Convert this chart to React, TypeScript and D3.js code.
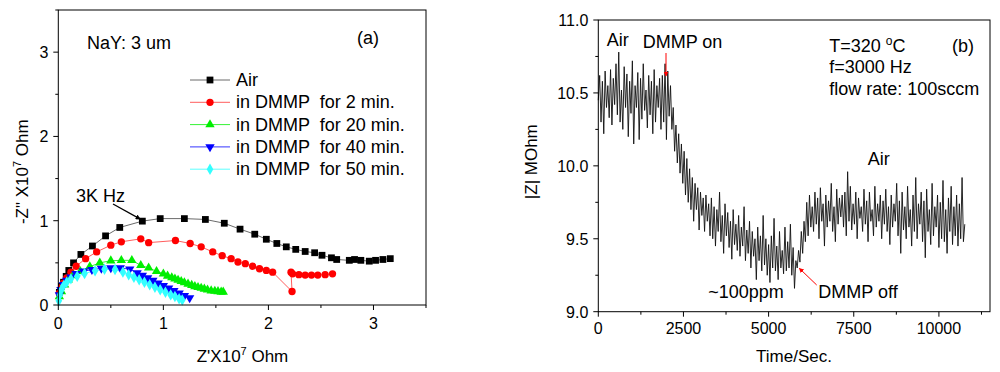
import React from "react";
import * as d3 from "d3";

// ---------- Panel (a): Nyquist plots ----------
const airX = [0.01, 0.03, 0.05, 0.075, 0.10, 0.145, 0.215, 0.325, 0.45, 0.585, 0.80, 0.97, 1.20, 1.40, 1.58, 1.73, 1.87, 1.98, 2.08, 2.17, 2.26, 2.35, 2.44, 2.51, 2.60, 2.65, 2.77, 2.82, 2.88, 2.96, 3.02, 3.09, 3.16];
const airY = [0.15, 0.22, 0.27, 0.34, 0.41, 0.50, 0.60, 0.70, 0.82, 0.92, 0.995, 1.025, 1.025, 1.015, 0.97, 0.90, 0.84, 0.78, 0.73, 0.69, 0.66, 0.635, 0.62, 0.59, 0.56, 0.54, 0.53, 0.54, 0.53, 0.52, 0.53, 0.54, 0.55];

const min2X = [0.01, 0.03, 0.05, 0.08, 0.12, 0.17, 0.26, 0.365, 0.50, 0.60, 0.785, 0.86, 1.115, 1.255, 1.36, 1.47, 1.56, 1.645, 1.71, 1.78, 1.85, 1.915, 1.98, 2.04, 2.225, 2.215, 2.23, 2.29, 2.35, 2.41, 2.47, 2.54, 2.61];
const min2Y = [0.14, 0.21, 0.26, 0.32, 0.39, 0.46, 0.55, 0.63, 0.71, 0.75, 0.785, 0.74, 0.765, 0.73, 0.69, 0.63, 0.585, 0.55, 0.51, 0.49, 0.46, 0.43, 0.41, 0.39, 0.16, 0.39, 0.37, 0.36, 0.355, 0.355, 0.355, 0.36, 0.37];

const min20X = [0.01, 0.03, 0.06, 0.095, 0.14, 0.21, 0.30, 0.395, 0.50, 0.60, 0.70, 0.785, 0.86, 0.935, 1.0, 1.04, 1.08, 1.11, 1.14, 1.17, 1.20, 1.235, 1.27, 1.30, 1.33, 1.36, 1.39, 1.42, 1.455, 1.49, 1.52, 1.55, 1.57];
const min20Y = [0.10, 0.16, 0.24, 0.30, 0.35, 0.40, 0.455, 0.50, 0.525, 0.53, 0.53, 0.47, 0.44, 0.40, 0.37, 0.345, 0.325, 0.31, 0.295, 0.28, 0.265, 0.25, 0.235, 0.22, 0.21, 0.20, 0.19, 0.18, 0.17, 0.165, 0.16, 0.155, 0.155];

const min40X = [0.01, 0.025, 0.05, 0.08, 0.12, 0.17, 0.24, 0.32, 0.41, 0.50, 0.59, 0.68, 0.75, 0.80, 0.85, 0.90, 0.95, 1.0, 1.05, 1.10, 1.15, 1.20, 1.25];
const min40Y = [0.12, 0.18, 0.24, 0.29, 0.33, 0.37, 0.40, 0.42, 0.435, 0.44, 0.44, 0.425, 0.38, 0.35, 0.32, 0.29, 0.26, 0.23, 0.20, 0.17, 0.14, 0.11, 0.085];

const min50X = [0.005, 0.015, 0.03, 0.05, 0.08, 0.12, 0.18, 0.25, 0.35, 0.44, 0.54, 0.615, 0.67, 0.72, 0.77, 0.82, 0.87, 0.92, 0.97, 1.02, 1.07, 1.11, 1.15, 1.18];
const min50Y = [0.05, 0.12, 0.18, 0.23, 0.27, 0.31, 0.34, 0.375, 0.405, 0.425, 0.42, 0.39, 0.36, 0.33, 0.30, 0.27, 0.24, 0.21, 0.18, 0.15, 0.12, 0.10, 0.075, 0.06];

const seriesLabels = ["Air", "in DMMP  for 2 min.", "in DMMP  for 20 min.", "in DMMP  for 40 min.", "in DMMP  for 50 min."];
const seriesColors = ["#000000", "#ff0000", "#00ee00", "#0000ff", "#33ffff"];
const lineColors = ["#444444", "#ff3333", "#00ee00", "#0000ff", "#33ffff"];

const xTicksA = [0, 1, 2, 3];
const xMinorA = [0.5, 1.5, 2.5, 3.5];
const yTicksA = [0, 1, 2, 3];
const yMinorA = [0.5, 1.5, 2.5, 3.5];

// ---------- Panel (b): |Z| vs time ----------
const timeStart = 0;
const timeStep = 40;
const impedance = [
  // air (0 - 2080 s)
  10.45, 10.62, 10.30, 10.58, 10.22, 10.65, 10.40, 10.55, 10.33, 10.66,
  10.28, 10.60, 10.42, 10.70, 10.35, 10.78, 10.30, 10.52, 10.25, 10.68,
  10.40, 10.63, 10.20, 10.58, 10.36, 10.72, 10.15, 10.55, 10.40, 10.64,
  10.18, 10.60, 10.32, 10.70, 10.38, 10.52, 10.26, 10.62, 10.35, 10.58,
  10.22, 10.66, 10.30, 10.55, 10.40, 10.60, 10.25, 10.62, 10.30, 10.70,
  10.18, 10.65, 10.34,
  // DMMP on, fast decline
  10.55, 10.25, 10.40, 10.10, 10.28, 10.02, 10.22, 9.95, 10.15, 9.88,
  10.10, 9.80, 10.05, 9.75, 9.98, 9.70, 9.92, 9.62, 9.88, 9.70,
  9.85, 9.56, 9.82, 9.66, 9.78, 9.55, 9.80, 9.62, 9.74, 9.52,
  // slow decline
  9.78, 9.50, 9.72, 9.45, 9.70, 9.55, 9.82, 9.48, 9.66, 9.40,
  9.74, 9.52, 9.68, 9.44, 9.62, 9.36, 9.70, 9.46, 9.60, 9.42,
  9.66, 9.38, 9.58, 9.45, 9.72, 9.35, 9.56, 9.40, 9.62, 9.30,
  9.55, 9.38, 9.50, 9.22, 9.58, 9.35, 9.52, 9.28, 9.66, 9.32,
  9.50, 9.25, 9.46, 9.20, 9.52, 9.30, 9.64, 9.28, 9.45, 9.22,
  9.55, 9.30, 9.42, 9.26, 9.58, 9.28, 9.48, 9.30, 9.60, 9.25,
  9.44, 9.16, 9.35,
  // DMMP off, recovery
  9.30, 9.42, 9.34, 9.55, 9.40, 9.62, 9.48, 9.75, 9.52, 9.80, 9.58, 9.72,
  // air
  9.55, 9.82, 9.60, 9.78, 9.50, 9.85, 9.62, 9.74, 9.45, 9.80,
  9.58, 9.76, 9.62, 9.88, 9.55, 9.72, 9.48, 9.84, 9.60, 9.78,
  9.65, 9.80, 9.58, 9.82, 9.52, 9.96, 9.62, 9.86, 9.56, 9.74,
  9.60, 9.82, 9.50, 9.78, 9.64, 9.72, 9.55, 9.84, 9.60, 9.76,
  9.48, 9.82, 9.62, 9.70, 9.52, 9.86, 9.58, 9.74, 9.62, 9.80,
  9.50, 9.76, 9.60, 9.84, 9.55, 9.72, 9.46, 9.80, 9.58, 9.74,
  9.62, 9.88, 9.52, 9.76, 9.40, 9.82, 9.56, 9.72, 9.50, 9.86,
  9.58, 9.70, 9.45, 9.80, 9.55, 9.92, 9.50, 9.74, 9.60, 9.82,
  9.48, 9.76, 9.37, 9.84, 9.55, 9.70, 9.46, 9.88, 9.52, 9.72,
  9.58, 9.80, 9.44, 9.75, 9.50, 9.90, 9.48, 9.70, 9.40, 9.78,
  9.55, 9.86, 9.46, 9.72, 9.52, 9.80, 9.45, 9.74, 9.50, 9.92,
  9.48, 9.60,
];

const xTicksB = [0, 2500, 5000, 7500, 10000];
const xMinorB = [1250, 3750, 6250, 8750, 11250];
const yTicksB = [9.0, 9.5, 10.0, 10.5, 11.0];
const yMinorB = [9.25, 9.75, 10.25, 10.75];

const FONT = "'Liberation Sans', Arial, Helvetica, sans-serif";
const TICK_FS = 16;
const TEXT_FS = 18;
const TITLE_FS = 17;

export default function App() {
  const xA = d3.scaleLinear().domain([0, 3.5]).range([58.3, 426]);
  const yA = d3.scaleLinear().domain([0, 3.5]).range([305, 10]);
  const xB = d3.scaleLinear().domain([0, 11500]).range([598.3, 990]);
  const yB = d3.scaleLinear().domain([9, 11]).range([311.7, 20]);

  const seriesX = [airX, min2X, min20X, min40X, min50X];
  const seriesY = [airY, min2Y, min20Y, min40Y, min50Y];
  const symbols = [
    d3.symbol().type(d3.symbolSquare).size(46)(),
    d3.symbol().type(d3.symbolCircle).size(42)(),
    d3.symbol().type(d3.symbolTriangle).size(38)(),
    d3.symbol().type(d3.symbolTriangle).size(38)(),
    d3.symbol().type(d3.symbolDiamond).size(38)(),
  ];
  const rotations = [0, 0, 0, 180, 0];

  const lineA = d3
    .line<[number, number]>()
    .x((d) => xA(d[0]))
    .y((d) => yA(d[1]));

  const pointsB: [number, number][] = impedance.map((v, i) => [timeStart + i * timeStep, v]);
  const lineB = d3
    .line<[number, number]>()
    .x((d) => xB(d[0]))
    .y((d) => yB(d[1]));

  const legendX = 190;
  const legendY0 = 80;
  const legendDY = 22.3;

  const axA = { x0: xA.range()[0], x1: xA.range()[1], y0: yA.range()[0], y1: yA.range()[1] };
  const axB = { x0: xB.range()[0], x1: xB.range()[1], y0: yB.range()[0], y1: yB.range()[1] };

  return (
    <svg
      width={1000}
      height={372}
      style={{ position: "absolute", left: 0, top: 0, background: "#fff" }}
      fontFamily={FONT}
      fontSize={TEXT_FS}
    >
      <defs>
        <marker id="redHead" viewBox="0 0 10 10" refX="9" refY="5" markerWidth="5" markerHeight="5" orient="auto-start-reverse">
          <path d="M0,0 L10,5 L0,10 z" fill="#ff0000" />
        </marker>
        <marker id="blackHead" viewBox="0 0 10 10" refX="9" refY="5" markerWidth="4" markerHeight="4" orient="auto-start-reverse">
          <path d="M0,0 L10,5 L0,10 z" fill="#000" />
        </marker>
      </defs>

      {/* ================= Panel (a) ================= */}
      <g>
        {seriesX.map((xs, si) => (
          <path
            key={"la" + si}
            d={lineA(xs.map((x, i) => [x, seriesY[si][i]]) as [number, number][]) || ""}
            fill="none"
            stroke={lineColors[si]}
            strokeWidth={0.8}
          />
        ))}
        {seriesX.map((xs, si) => (
          <g key={"ma" + si} fill={seriesColors[si]}>
            {xs.map((x, i) => (
              <path
                key={i}
                d={symbols[si]}
                transform={`translate(${xA(x)},${yA(seriesY[si][i])}) rotate(${rotations[si]})`}
              />
            ))}
          </g>
        ))}

        <rect x={axA.x0} y={axA.y1} width={axA.x1 - axA.x0} height={axA.y0 - axA.y1} fill="none" stroke="#000" strokeWidth={1} />
        {xTicksA.map((t) => (
          <g key={"xta" + t}>
            <line x1={xA(t)} x2={xA(t)} y1={axA.y0} y2={axA.y0 + 5} stroke="#000" />
            <text x={xA(t)} y={axA.y0 + 24} textAnchor="middle" fontSize={TICK_FS}>{t}</text>
          </g>
        ))}
        {xMinorA.map((t) => (
          <line key={"xma" + t} x1={xA(t)} x2={xA(t)} y1={axA.y0} y2={axA.y0 + 3} stroke="#000" />
        ))}
        {yTicksA.map((t) => (
          <g key={"yta" + t}>
            <line x1={axA.x0 - 5} x2={axA.x0} y1={yA(t)} y2={yA(t)} stroke="#000" />
            <text x={axA.x0 - 10} y={yA(t) + 6} textAnchor="end" fontSize={TICK_FS}>{t}</text>
          </g>
        ))}
        {yMinorA.map((t) => (
          <line key={"yma" + t} x1={axA.x0 - 3} x2={axA.x0} y1={yA(t)} y2={yA(t)} stroke="#000" />
        ))}

        <text x={242.5} y={362} textAnchor="middle" fontSize={TITLE_FS}>
          Z'X10<tspan fontSize={11} dy={-7}>7</tspan>
          <tspan dy={7}> Ohm</tspan>
        </text>
        <text transform="translate(28,171.7) rotate(-90)" textAnchor="middle" fontSize={TITLE_FS}>
          -Z" X10<tspan fontSize={11} dy={-7}>7</tspan>
          <tspan dy={7}> Ohm</tspan>
        </text>

        <text x={87} y={49}>NaY: 3 um</text>
        <text x={357} y={44}>(a)</text>
        <text x={76} y={201.5}>3K Hz</text>
        <line
          x1={113}
          y1={204}
          x2={xA(0.8) - 2}
          y2={yA(0.995) - 2}
          stroke="#000"
          strokeWidth={1.3}
          markerEnd="url(#blackHead)"
        />

        {seriesLabels.map((lab, si) => {
          const y = legendY0 + si * legendDY;
          return (
            <g key={"lg" + si}>
              <line x1={legendX} x2={legendX + 40} y1={y} y2={y} stroke={lineColors[si]} strokeWidth={0.8} />
              <path d={symbols[si]} fill={seriesColors[si]} transform={`translate(${legendX + 20},${y}) rotate(${rotations[si]})`} />
              <text x={legendX + 46} y={y + 6} style={{ whiteSpace: "pre" }}>
                {lab}
              </text>
            </g>
          );
        })}
      </g>

      {/* ================= Panel (b) ================= */}
      <g>
        <path d={lineB(pointsB) || ""} fill="none" stroke="#111" strokeWidth={0.9} />

        <rect x={axB.x0} y={axB.y1} width={axB.x1 - axB.x0} height={axB.y0 - axB.y1} fill="none" stroke="#000" strokeWidth={1} />
        {xTicksB.map((t) => (
          <g key={"xtb" + t}>
            <line x1={xB(t)} x2={xB(t)} y1={axB.y0} y2={axB.y0 + 5} stroke="#000" />
            <text x={xB(t)} y={axB.y0 + 22} textAnchor="middle" fontSize={TICK_FS}>{t}</text>
          </g>
        ))}
        {xMinorB.map((t) => (
          <line key={"xmb" + t} x1={xB(t)} x2={xB(t)} y1={axB.y0} y2={axB.y0 + 3} stroke="#000" />
        ))}
        {yTicksB.map((t) => (
          <g key={"ytb" + t}>
            <line x1={axB.x0 - 5} x2={axB.x0} y1={yB(t)} y2={yB(t)} stroke="#000" />
            <text x={axB.x0 - 10} y={yB(t) + 6} textAnchor="end" fontSize={TICK_FS}>{t.toFixed(1)}</text>
          </g>
        ))}
        {yMinorB.map((t) => (
          <line key={"ymb" + t} x1={axB.x0 - 3} x2={axB.x0} y1={yB(t)} y2={yB(t)} stroke="#000" />
        ))}

        <text x={794} y={362} textAnchor="middle" fontSize={TITLE_FS}>Time/Sec.</text>
        <text transform="translate(537,161.7) rotate(-90)" textAnchor="middle" fontSize={TITLE_FS}>|Z| MOhm</text>

        <text x={606.7} y={46}>Air</text>
        <text x={642.7} y={48}>DMMP on</text>
        <line x1={666} y1={53} x2={666} y2={76} stroke="#ff0000" strokeWidth={1} markerEnd="url(#redHead)" />
        <text x={829.3} y={51.7}>
          T=320 <tspan fontSize={12} dy={-7}>o</tspan>
          <tspan dy={7}>C</tspan>
        </text>
        <text x={829.3} y={73.3}>f=3000 Hz</text>
        <text x={829.3} y={95}>flow rate: 100sccm</text>
        <text x={952} y={51.7}>(b)</text>
        <text x={867.7} y={165}>Air</text>
        <text x={708.3} y={298.3}>~100ppm</text>
        <text x={818.3} y={298.3}>DMMP off</text>
        <line x1={816.7} y1={285} x2={799.3} y2={268.3} stroke="#ff0000" strokeWidth={1} markerEnd="url(#redHead)" />
      </g>
    </svg>
  );
}
